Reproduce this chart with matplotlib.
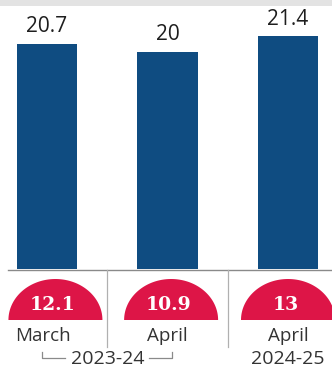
import numpy as np
import matplotlib
matplotlib.use("Agg")
import matplotlib.pyplot as plt
from matplotlib.patches import Polygon, Rectangle

# data
months = ["March", "April", "April"]
years = ["2023-24", "2024-25"]
bar_values = [20.7, 20, 21.4]
dome_values = [12.1, 10.9, 13]
bar_labels = ["20.7", "20", "21.4"]
dome_labels = ["12.1", "10.9", "13"]

BLUE = "#0f4c81"
RED = "#dd1547"
GREY = "#8a8a8a"

W, H = 332, 371
fig = plt.figure(figsize=(W / 100, H / 100), dpi=100)
fig.patch.set_facecolor("white")

px_x = 120.5            # pixels per category step
x0 = 47                 # pixel centre of first bar
xlim = (-x0 / px_x, (W - x0) / px_x)
base = 102              # baseline, pixels from bottom
px_y = 10.87            # pixels per unit

# bar panel
ax = fig.add_axes([0, base / H, 1, (H - base) / H])
ax.set_xlim(*xlim)
ax.set_ylim(0, (H - base) / px_y)
ax.axis("off")
x = np.arange(len(months))
ax.bar(x, bar_values, width=0.5, color=BLUE, zorder=2)
for xi, v, lab in zip(x, bar_values, bar_labels):
    ax.text(xi, v + 0.6, lab, ha="center", va="bottom", fontsize=15,
            color="#1e1e1e", family="Open Sans", fontweight="medium")

# bottom panel, y in pixels
bx = fig.add_axes([0, 0, 1, base / H])
bx.set_xlim(*xlim)
bx.set_ylim(0, base)
bx.axis("off")
bx.plot([8 / px_x + xlim[0], xlim[1]], [base - 1, base - 1], color=GREY, lw=1)
for sx in [0.5, 1.5]:
    bx.plot([sx, sx], [24, base - 1], color="#b0b0b0", lw=0.9)

dome_shift = [0.07, 0.03, 0.0]
half_w, dome_h, dome_y = 47 / px_x, 41, 51
t = np.linspace(0, np.pi, 80)
for xi, s, lab in zip(x, dome_shift, dome_labels):
    cx = xi + s
    pts = np.column_stack([cx + half_w * np.cos(t), dome_y + dome_h * np.sin(t)])
    bx.add_patch(Polygon(pts, closed=True, color=RED, lw=0))
    bx.text(cx - 0.02, dome_y + 15, lab, ha="center", va="center", fontsize=13.5,
            color="white", fontweight="bold", family="DejaVu Serif")

month_shift = [-0.03, 0.0, 0.0]
for xi, s, m in zip(x, month_shift, months):
    bx.text(xi + s, 35, m, ha="center", va="center", fontsize=13.5,
            color="#333333", family="Open Sans")

# year labels with bracket for the first two bars
bx.text(0.5, 12, years[0], ha="center", va="center", fontsize=14,
        color="#333333", family="Open Sans")
bx.text(2, 12, years[1], ha="center", va="center", fontsize=14,
        color="#333333", family="Open Sans")
lx, rx = (42 - x0) / px_x, (172 - x0) / px_x
bx.plot([lx, lx, 0.15], [19, 13, 13], color=GREY, lw=0.9)
bx.plot([0.85, rx, rx], [13, 13, 19], color=GREY, lw=0.9)

# light band at the top
fig.add_artist(Rectangle((0, 1 - 6 / H), 1, 6 / H, transform=fig.transFigure,
                         color="#e3e3e3", lw=0))

fig.savefig("out.png", dpi=100, facecolor="white")
